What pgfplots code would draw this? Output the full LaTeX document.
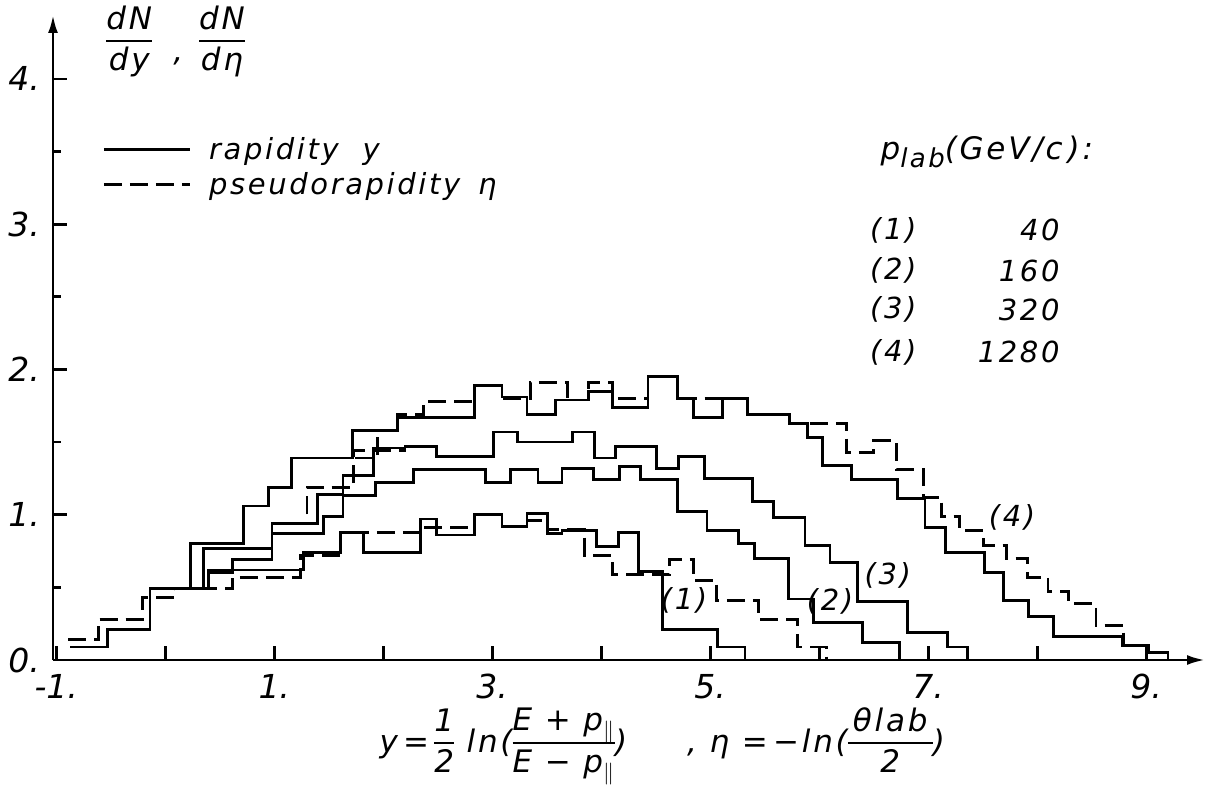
\documentclass[border=0pt]{standalone}
\usepackage{fontspec}
\setmainfont{DejaVu Sans}
\newfontfamily\lett[LetterSpace=9]{DejaVu Sans}
\newfontfamily\tickf{DejaVu Sans}
\usepackage{pgfplots}
\pgfplotsset{compat=1.18}
\usetikzlibrary{arrows.meta}
\setlength\arrayrulewidth{1pt}
% stacked fraction in the lettering font
\newcommand\fr[2]{$\vcenter{\hbox{\begin{tabular}{@{}c@{}}#1\\[0pt]\hline\noalign{\vskip1.5pt}#2\end{tabular}}}$}
\pgfplotsset{
  hs/.style={const plot, black, line width=1.4pt, no marks, forget plot},
  hd/.style={hs, dash pattern=on 9pt off 4pt},
}
\begin{document}
\begin{tikzpicture}
\begin{axis}[name=ax, scale only axis, width=576pt, height=322.5pt,
  xmin=-1.03, xmax=9.54, ymin=0, ymax=4.44,
  axis lines=left, clip=false,
  axis line style={line width=1.4pt, -{Latex[length=9pt,width=5pt]}},
  tick align=inside,
  xtick={-1,0,...,9}, xticklabels={-1.,,1.,,3.,,5.,,7.,,9.},
  ytick={0,1,2,3,4}, yticklabels={0.,1.,2.,3.,4.},
  minor ytick={0.5,1.5,2.5,3.5},
  major tick length=7pt, minor tick length=4pt,
  every tick/.style={black, line width=1.4pt},
  xticklabel style={font=\tickf\itshape\fontsize{16.5}{19}\selectfont, yshift=-3.5pt},
  yticklabel style={font=\tickf\itshape\fontsize{16.5}{19}\selectfont, xshift=-3pt},
  legend style={at={(axis cs:-0.58,3.63)}, anchor=north west, draw=none, fill=none,
    inner sep=0pt, row sep=1pt,
    font=\lett\itshape\fontsize{14.5}{17}\selectfont,
    /tikz/every odd column/.append style={column sep=7pt}},
  legend image code/.code={\draw[#1] (0pt,0pt) -- (43pt,0pt);},
  legend cell align=left,
]
\addlegendimage{black, line width=1.4pt}
\addlegendentry{rapidity\hspace{6pt} y}
\addlegendimage{black, line width=1.4pt, dash pattern=on 9pt off 4pt}
\addlegendentry{pseudorapidity\hspace{3pt} η}

% (1) 40 GeV/c
\addplot[hs] coordinates {(-0.87,0.09) (-0.53,0.21) (-0.14,0.49) (0.40,0.62) (1.27,0.74) (1.61,0.88) (1.82,0.74) (2.34,0.97) (2.49,0.86) (2.84,1.00) (3.09,0.92) (3.32,1.01) (3.51,0.87) (3.64,0.89) (3.96,0.78) (4.16,0.88) (4.34,0.61) (4.56,0.21) (5.07,0.09) (5.32,0)};
\addplot[hd] coordinates {(-0.89,0.14) (-0.61,0.28) (-0.21,0.43) (0.09,0.49) (0.62,0.57) (1.24,0.72) (1.61,0.88) (2.37,0.91) (2.84,1.00) (3.09,0.92) (3.32,0.96) (3.51,0.90) (3.85,0.72) (4.10,0.59) (4.63,0.69) (4.85,0.55) (5.06,0.41) (5.44,0.28) (5.80,0.09) (6.07,0)};
% (2) 160 GeV/c
\addplot[hs] coordinates {(-0.87,0.09) (-0.53,0.21) (-0.14,0.49) (0.40,0.60) (0.62,0.69) (0.98,0.87) (1.45,0.99) (1.63,1.13) (1.93,1.22) (2.28,1.31) (2.94,1.22) (3.17,1.31) (3.42,1.22) (3.64,1.32) (3.93,1.24) (4.17,1.33) (4.36,1.24) (4.70,1.02) (4.97,0.89) (5.26,0.80) (5.41,0.70) (5.72,0.42) (5.95,0.26) (6.40,0.12) (6.74,0)};
\addplot[hd] coordinates {(-0.89,0.14) (-0.61,0.28) (-0.21,0.43) (0.09,0.49) (0.40,0.60) (0.62,0.69) (0.98,0.87) (1.45,0.99) (1.63,1.13) (1.93,1.22) (2.28,1.31) (2.94,1.22) (3.17,1.31) (3.42,1.22) (3.64,1.32) (3.93,1.24) (4.17,1.33) (4.36,1.24) (4.70,1.02) (4.97,0.89) (5.26,0.80) (5.41,0.70) (5.72,0.42) (5.95,0.26) (6.40,0.12) (6.74,0)};
% (3) 320 GeV/c
\addplot[hs] coordinates {(-0.87,0.09) (-0.53,0.21) (-0.14,0.49) (0.35,0.77) (0.98,0.94) (1.40,1.14) (1.63,1.27) (1.91,1.46) (2.20,1.47) (2.49,1.40) (3.01,1.57) (3.23,1.50) (3.74,1.57) (3.94,1.39) (4.13,1.47) (4.51,1.32) (4.71,1.40) (4.95,1.25) (5.39,1.09) (5.58,0.98) (5.87,0.79) (6.10,0.67) (6.35,0.40) (6.81,0.19) (7.18,0.09) (7.36,0)};
\addplot[hd] coordinates {(-0.89,0.14) (-0.61,0.28) (-0.21,0.43) (0.09,0.49) (0.35,0.77) (0.98,0.94) (1.30,1.19) (1.73,1.44) (2.20,1.47) (2.49,1.40) (3.01,1.57) (3.23,1.50) (3.74,1.57) (3.94,1.39) (4.13,1.47) (4.51,1.32) (4.71,1.40) (4.95,1.25) (5.39,1.09) (5.58,0.98) (5.87,0.79) (6.10,0.67) (6.35,0.40) (6.81,0.19) (7.18,0.09) (7.36,0)};
% (4) 1280 GeV/c
\addplot[hs] coordinates {(-0.87,0.09) (-0.53,0.21) (-0.14,0.49) (0.23,0.80) (0.72,1.06) (0.95,1.19) (1.16,1.39) (1.72,1.58) (2.13,1.67) (2.84,1.89) (3.09,1.81) (3.32,1.69) (3.58,1.79) (3.88,1.85) (4.10,1.74) (4.43,1.95) (4.70,1.80) (4.85,1.67) (5.11,1.80) (5.34,1.69) (5.73,1.63) (5.89,1.53) (6.03,1.34) (6.30,1.24) (6.72,1.11) (6.97,0.91) (7.16,0.74) (7.52,0.60) (7.69,0.41) (7.92,0.30) (8.15,0.16) (8.78,0.10) (9.02,0.05) (9.20,0)};
\addplot[hd] coordinates {(-0.89,0.14) (-0.61,0.28) (-0.21,0.43) (0.09,0.49) (0.23,0.80) (0.72,1.06) (0.95,1.19) (1.16,1.39) (1.95,1.58) (2.13,1.69) (2.37,1.78) (2.84,1.89) (3.09,1.80) (3.35,1.91) (3.69,1.79) (3.88,1.91) (4.10,1.80) (4.43,1.95) (4.70,1.80) (5.34,1.69) (5.73,1.63) (6.25,1.43) (6.50,1.51) (6.71,1.31) (6.96,1.12) (7.12,0.99) (7.29,0.89) (7.51,0.79) (7.72,0.70) (7.91,0.57) (8.10,0.47) (8.29,0.39) (8.54,0.24) (8.79,0.10) (9.02,0.05) (9.20,0)};

% curve labels
\begin{scope}[every node/.style={font=\lett\itshape\fontsize{14.5}{17}\selectfont}]
\node at (axis cs:4.76,0.41) {(1)};
\node at (axis cs:6.10,0.40) {(2)};
\node at (axis cs:6.63,0.58) {(3)};
\node at (axis cs:7.77,0.98) {(4)};
% beam momenta
\node[anchor=west, font=\lett\itshape\fontsize{15.5}{18}\selectfont] at (axis cs:6.50,3.50) {p\raisebox{-4pt}{\fontsize{13}{13}\selectfont lab}(GeV/c\,):};
\node at (axis cs:6.68,2.96) {(1)};
\node[anchor=east] at (axis cs:8.27,2.96) {40};
\node at (axis cs:6.68,2.68) {(2)};
\node[anchor=east] at (axis cs:8.27,2.68) {160};
\node at (axis cs:6.68,2.41) {(3)};
\node[anchor=east] at (axis cs:8.27,2.41) {320};
\node at (axis cs:6.68,2.12) {(4)};
\node[anchor=east] at (axis cs:8.27,2.12) {1280};
% axis titles
\node[font=\lett\itshape\fontsize{15.5}{18}\selectfont] at (axis cs:-0.33,4.25) {\fr{dN}{dy}};
\node[font=\lett\itshape\fontsize{15.5}{18}\selectfont] at (axis cs:0.12,4.12) {,};
\node[font=\lett\itshape\fontsize{15.5}{18}\selectfont] at (axis cs:0.52,4.25) {\fr{dN}{dη}};
\node[font=\lett\itshape\fontsize{15.5}{18}\selectfont] at (axis cs:4.56,-0.585) {y\,=\,\fr{1}{2} ln(\fr{E + p$_{\parallel}$}{E − p$_{\parallel}$})\hspace{30pt}, η =\,−ln(\fr{\,θlab\,}{2})};
\end{scope}
\end{axis}
\pgfresetboundingbox
\path ([xshift=-26.5pt,yshift=-66.5pt]ax.south west) rectangle ([xshift=3pt,yshift=7.5pt]ax.north east);
\end{tikzpicture}
\end{document}
